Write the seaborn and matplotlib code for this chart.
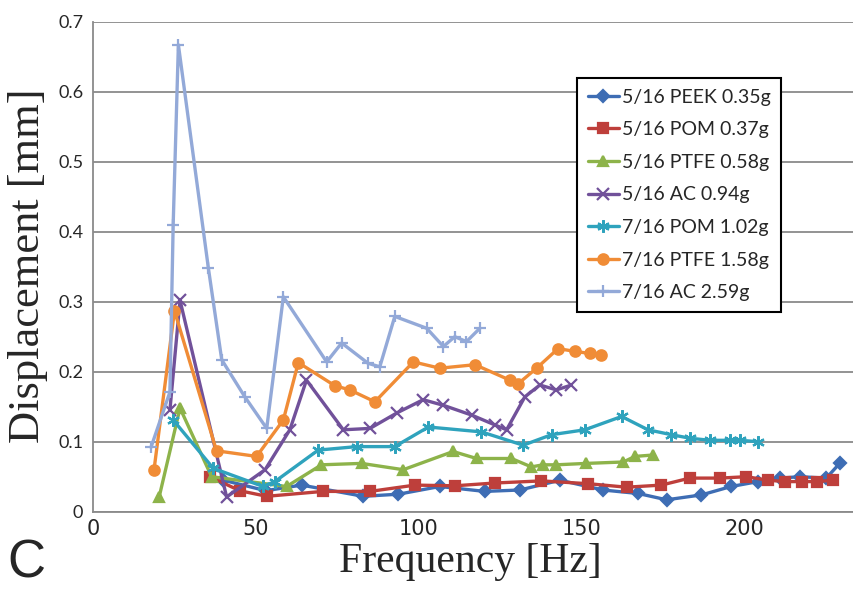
import numpy as np
import pandas as pd
import matplotlib
matplotlib.use("Agg")
import matplotlib.pyplot as plt
import seaborn as sns

# (Hz, mm)
f_peek5 = [40.0, 53.0, 64.0, 82.9, 93.7, 106.4, 120.2, 131.0, 143.3, 156.5, 167.3, 176.0, 186.7, 195.8, 204.1, 210.7, 216.9, 225.0, 229.1]
d_peek5 = [0.045, 0.030, 0.038, 0.022, 0.025, 0.036, 0.029, 0.031, 0.045, 0.031, 0.026, 0.017, 0.024, 0.036, 0.043, 0.048, 0.050, 0.048, 0.069]

f_pom5 = [35.9, 45.0, 53.3, 70.6, 85.0, 98.8, 111.0, 123.3, 137.6, 152.0, 163.7, 174.4, 183.1, 192.3, 200.5, 207.1, 212.3, 217.4, 222.0, 227.1]
d_pom5 = [0.050, 0.030, 0.022, 0.029, 0.029, 0.038, 0.037, 0.041, 0.044, 0.040, 0.035, 0.038, 0.048, 0.048, 0.050, 0.045, 0.043, 0.043, 0.043, 0.045]

f_ptfe5 = [20.3, 26.7, 36.4, 59.4, 70.1, 82.4, 95.2, 110.5, 117.7, 128.4, 134.5, 138.1, 142.2, 151.4, 162.7, 166.3, 171.9]
d_ptfe5 = [0.021, 0.148, 0.050, 0.036, 0.067, 0.069, 0.060, 0.086, 0.076, 0.076, 0.064, 0.067, 0.067, 0.069, 0.071, 0.079, 0.081]

f_ac5 = [23.6, 26.7, 41.0, 52.8, 60.4, 65.5, 76.8, 85.0, 93.2, 101.3, 107.5, 116.2, 123.3, 126.9, 132.5, 137.1, 142.2, 146.8]
d_ac5 = [0.145, 0.302, 0.021, 0.060, 0.117, 0.188, 0.117, 0.119, 0.141, 0.160, 0.152, 0.138, 0.124, 0.117, 0.164, 0.181, 0.174, 0.181]

f_pom7 = [24.6, 36.9, 52.2, 55.8, 69.1, 80.9, 92.6, 102.9, 119.2, 132.0, 140.7, 150.9, 162.2, 170.3, 177.5, 183.1, 189.3, 195.4, 198.5, 204.1]
d_pom7 = [0.131, 0.062, 0.036, 0.043, 0.088, 0.093, 0.093, 0.121, 0.114, 0.095, 0.110, 0.117, 0.136, 0.117, 0.110, 0.105, 0.102, 0.102, 0.102, 0.100]

f_ptfe7 = [18.7, 25.0, 37.9, 50.2, 58.4, 63.0, 74.2, 78.8, 86.5, 98.3, 106.4, 117.2, 127.9, 130.5, 136.1, 142.7, 147.9, 152.5, 156.0]
d_ptfe7 = [0.059, 0.287, 0.087, 0.079, 0.131, 0.213, 0.180, 0.174, 0.157, 0.214, 0.205, 0.210, 0.188, 0.183, 0.205, 0.233, 0.229, 0.226, 0.224]

f_ac7 = [17.8, 23.6, 24.6, 26.2, 35.4, 39.5, 46.6, 53.3, 58.4, 71.7, 76.3, 84.4, 88.0, 92.6, 102.4, 107.5, 111.0, 114.6, 118.7]
d_ac7 = [0.092, 0.171, 0.410, 0.667, 0.348, 0.217, 0.164, 0.119, 0.307, 0.214, 0.241, 0.212, 0.207, 0.279, 0.262, 0.236, 0.250, 0.243, 0.262]

labels = ["5/16 PEEK 0.35g", "5/16 POM 0.37g", "5/16 PTFE 0.58g", "5/16 AC 0.94g",
          "7/16 POM 1.02g", "7/16 PTFE 1.58g", "7/16 AC 2.59g"]
freqs = [f_peek5, f_pom5, f_ptfe5, f_ac5, f_pom7, f_ptfe7, f_ac7]
disps = [d_peek5, d_pom5, d_ptfe5, d_ac5, d_pom7, d_ptfe7, d_ac7]

colors = ["#3e6db4", "#be3f3b", "#8db34a", "#71519a", "#2fa3bd", "#f08c36", "#93a9d8"]
markers = ["D", "s", "^", "x", (6, 2, 0), "o", "+"]
msizes = [6, 7, 7, 8, 9, 7.5, 9]

sns.set_style("white")
plt.rcParams['font.family'] = ['Lato', 'DejaVu Sans']

fig = plt.figure(figsize=(8.54, 5.9), dpi=100)
ax = fig.add_axes([93 / 854, 1 - 511.7 / 590, (854 - 93) / 854, 490 / 590])

for lab, f, d, c, m, ms in zip(labels, freqs, disps, colors, markers, msizes):
    sns.lineplot(x=f, y=d, ax=ax, color=c, marker=m, markersize=ms,
                 markeredgecolor=c, markerfacecolor=c, markeredgewidth=1.6,
                 linewidth=2.4, sort=False, label=lab)

ax.set_xlim(0, 233.5)
ax.set_ylim(0, 0.7)
ax.set_xticks([0, 50, 100, 150, 200])
ax.set_yticks(np.arange(0, 0.71, 0.1))
ax.set_yticklabels(["0", "0.1", "0.2", "0.3", "0.4", "0.5", "0.6", "0.7"])
ax.tick_params(axis="both", length=0)
ax.tick_params(axis="y", pad=7, labelsize=13)
ax.tick_params(axis="x", pad=5)
for t in ax.get_xticklabels():
    t.set_family(['Liberation Sans Narrow', 'DejaVu Sans'])
    t.set_fontsize(15)

ax.yaxis.grid(True, color="#8a8a8a", linewidth=1.3)
ax.set_axisbelow(True)
for side in ["top", "right"]:
    ax.spines[side].set_visible(False)
for side in ["left", "bottom"]:
    ax.spines[side].set_color("#8a8a8a")
    ax.spines[side].set_linewidth(1.3)

ax.set_xlabel("")
ax.set_ylabel("")
fig.text(470 / 854, 1 - 562 / 590, "Frequency [Hz]", ha="center", va="center",
         fontsize=30, family=['Liberation Serif', 'DejaVu Serif'])
fig.text(28 / 854, 1 - 266 / 590, "Displacement [mm]", ha="center", va="center",
         rotation=90, fontsize=32, family=['Liberation Serif', 'DejaVu Serif'])
fig.text(7 / 854, 1 / 590, "C", ha="left", va="bottom", fontsize=38,
         family=['Liberation Sans', 'DejaVu Sans'])

leg = ax.legend(loc="upper left", bbox_to_anchor=(0.636, 0.885), fontsize=14,
                frameon=True, fancybox=False, edgecolor="black", framealpha=1,
                labelspacing=0.8, handlelength=1.6, handletextpad=0.15,
                borderpad=0.55, borderaxespad=0)
leg.get_frame().set_linewidth(1.5)

fig.savefig("out.png", dpi=100)
